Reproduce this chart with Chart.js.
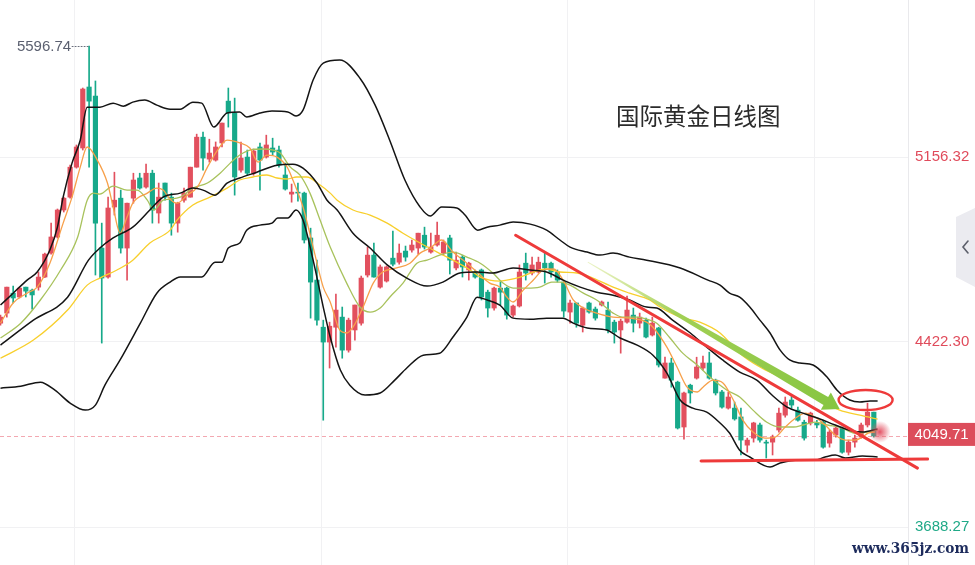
<!DOCTYPE html>
<html>
<head>
<meta charset="utf-8">
<script src="https://cdn.jsdelivr.net/npm/chart.js@4.4.0/dist/chart.umd.min.js"></script>
<style>
  html, body { margin: 0; padding: 0; background: #fff; overflow: hidden; }
  #wrap { width: 975px; height: 565px; }
</style>
</head>
<body>
<div id="wrap"><canvas id="goldChart" width="975" height="565"></canvas></div>
<script>
// ===== Daily candles (index 0 = leftmost visible bar) =====
const opens = [
  4497, 4537, 4616, 4601, 4640, 4628, 4640, 4680, 4775, 4839,
  4946, 4997, 5116, 5192, 5434, 5398, 4795, 4680, 4958, 4993,
  4795, 4993, 5073, 5037, 5092, 4934, 5053, 4997, 4894, 4985,
  4997, 5116, 5235, 5148, 5144, 5212, 5378, 5331, 5104, 5156,
  5092, 5196, 5156, 5192, 5184, 5085, 5009, 5017, 5013, 4835,
  4668, 4481, 4422, 4481, 4521, 4390, 4470, 4497, 4688, 4767,
  4640, 4664, 4755, 4739, 4783, 4787, 4795, 4846, 4779, 4807,
  4775, 4835, 4716, 4759, 4708, 4700, 4708, 4620, 4557, 4636,
  4636, 4529, 4565, 4735, 4696, 4700, 4735, 4735, 4700, 4660,
  4541, 4577, 4489, 4577, 4553, 4569, 4549, 4501, 4470, 4501,
  4529, 4497, 4509, 4450, 4478, 4279, 4339, 4263, 4085, 4251,
  4279, 4319, 4339, 4271, 4224, 4160, 4160, 4125, 4013, 4041,
  4093, 4025, 4025, 4073, 4132, 4192, 4152, 4104, 4101, 4101,
  4104, 4021, 4053, 4081, 3985, 4025, 4045, 4093, 4144
];
const highs = [
  4529, 4640, 4644, 4640, 4640, 4632, 4700, 4775, 4894, 4950,
  4997, 5124, 5204, 5430, 5596.74, 5458, 4894, 4997, 5096, 5025,
  4973, 5092, 5092, 5128, 5104, 5053, 5053, 5013, 4977, 5033,
  5116, 5247, 5255, 5227, 5216, 5291, 5430, 5390, 5216, 5184,
  5188, 5212, 5243, 5231, 5200, 5132, 5049, 5053, 5017, 4874,
  4747, 4509, 4501, 4612, 4561, 4517, 4569, 4684, 4799, 4815,
  4728, 4724, 4862, 4811, 4803, 4827, 4854, 4878, 4854, 4898,
  4827, 4846, 4779, 4767, 4739, 4708, 4712, 4628, 4640, 4660,
  4640, 4569, 4728, 4775, 4759, 4759, 4775, 4739, 4708, 4668,
  4589, 4577, 4561, 4581, 4561, 4585, 4581, 4509, 4513, 4604,
  4557, 4537, 4517, 4521, 4481, 4362, 4358, 4267, 4224, 4255,
  4362, 4366, 4382, 4275, 4231, 4224, 4184, 4160, 4041, 4104,
  4101, 4033, 4053, 4160, 4204, 4212, 4164, 4112, 4144, 4112,
  4112, 4073, 4085, 4085, 4033, 4053, 4101, 4180, 4144
];
const lows = [
  4489, 4521, 4577, 4597, 4601, 4553, 4628, 4678, 4771, 4835,
  4938, 4993, 5112, 5184, 5116, 4688, 4418, 4676, 4926, 4775,
  4668, 4973, 5029, 5033, 4894, 4894, 4985, 4846, 4858, 4977,
  4997, 5116, 5104, 5136, 5140, 5196, 5275, 5005, 5096, 5084,
  5084, 5025, 5152, 5164, 5116, 5025, 4977, 4981, 4815, 4517,
  4489, 4112, 4319, 4402, 4358, 4382, 4430, 4489, 4680, 4680,
  4636, 4660, 4724, 4731, 4743, 4779, 4771, 4791, 4775, 4803,
  4767, 4692, 4708, 4680, 4668, 4676, 4589, 4521, 4549, 4569,
  4513, 4521, 4561, 4668, 4688, 4696, 4656, 4680, 4660, 4521,
  4497, 4481, 4462, 4537, 4509, 4565, 4458, 4418, 4378, 4497,
  4462, 4478, 4438, 4446, 4323, 4279, 4243, 4077, 4037, 4180,
  4275, 4311, 4275, 4212, 4160, 4156, 4112, 3974, 3985, 4025,
  4025, 3962, 3974, 4065, 4124, 4160, 4108, 4033, 4093, 4081,
  4001, 4005, 4045, 3981, 3974, 4005, 4041, 4085, 4045
];
const closes = [
  4521, 4640, 4597, 4636, 4624, 4609, 4680, 4771, 4839, 4946,
  4993, 5116, 5196, 5426, 5378, 4894, 4676, 4954, 4985, 4795,
  4973, 5065, 5033, 5092, 4946, 4997, 4997, 4894, 4973, 5013,
  5116, 5235, 5152, 5172, 5196, 5291, 5331, 5077, 5152, 5092,
  5180, 5144, 5204, 5176, 5124, 5029, 5017, 5013, 4827, 4660,
  4509, 4422, 4485, 4549, 4390, 4509, 4569, 4676, 4767, 4680,
  4720, 4720, 4731, 4775, 4759, 4807, 4854, 4799, 4799, 4846,
  4819, 4747, 4747, 4720, 4735, 4680, 4601, 4557, 4636, 4620,
  4529, 4565, 4700, 4696, 4728, 4739, 4716, 4700, 4668, 4545,
  4577, 4497, 4557, 4541, 4517, 4581, 4470, 4462, 4505, 4549,
  4497, 4521, 4442, 4497, 4331, 4339, 4271, 4081, 4220, 4220,
  4323, 4339, 4279, 4220, 4164, 4204, 4117, 4033, 4033, 4101,
  4033, 4021, 4045, 4140, 4184, 4172, 4112, 4041, 4140, 4093,
  4005, 4065, 4081, 3985, 4025, 4041, 4093, 4144, 4049.71
];

// ===== Indicator lines, read as [bar index, price] =====
const bollUpper = [
  [0,4569],[2,4616],[4.2,4668],[5.8,4700],[7.8,4787],[9,4878],[9.9,4997],[11.3,5132],[12.6,5223],
  [13.7,5354],[15.7,5354],[17.8,5370],[19.4,5358],[20.9,5374],[22.8,5382],[24.7,5362],[26.8,5346],
  [28.4,5346],[30.4,5374],[31.8,5370],[33.7,5275],[35.8,5331],[37.8,5335],[38.9,5315],[41,5331],
  [42.9,5339],[45.4,5335],[46.7,5319],[47.8,5342],[49.4,5462],[51,5529],[53.6,5541],[56.8,5469],
  [59.2,5362],[61.5,5223],[63.9,5065],[66.3,4958],[67.9,4922],[69.7,4958],[72.1,4954],[73.4,4926],
  [75.4,4866],[76.9,4878],[78.9,4886],[81,4898],[83.7,4890],[86.3,4866],[88.4,4827],[90,4799],
  [92.7,4779],[94.7,4767],[96.8,4775],[99.4,4759],[102.1,4747],[107.4,4716],[111.8,4668],
  [113.7,4648],[115.2,4616],[116.8,4600],[118.4,4561],[120,4509],[121.6,4458],[123.2,4390],
  [124.7,4351],[126.3,4339],[128.4,4331],[130.6,4283],[132.2,4231],[134.2,4192],[135.8,4184],
  [137.4,4188],[138.6,4188]
];
const bollMid = [
  [0,4410],[5.2,4509],[10.6,4600],[13.9,4747],[15.7,4795],[17.8,4835],[20.9,4878],[23.6,4946],
  [25.7,4997],[28.4,5013],[30.4,5033],[32,5025],[33.9,5005],[35.8,5053],[37.8,5073],[40.5,5096],
  [43.7,5124],[46.2,5128],[47.8,5112],[50,5053],[51.6,4985],[53.2,4946],[55.7,4854],[58.4,4795],
  [61.1,4728],[64.2,4676],[67.4,4644],[69.9,4660],[72.6,4696],[75.3,4700],[77.8,4696],[81,4716],
  [83.7,4708],[86.3,4700],[88.9,4668],[91.6,4640],[94.2,4620],[96.8,4608],[99.4,4589],[102.1,4561],
  [103.7,4557],[106.2,4509],[109,4458],[111.6,4402],[114.1,4351],[116.8,4303],[119.5,4271],
  [121.9,4212],[124.3,4164],[126.3,4144],[129.2,4120],[131.9,4093],[134.6,4069],[136.2,4065],
  [138.6,4077]
];
const bollLower = [
  [0,4239],[3.2,4247],[6.3,4263],[8.6,4231],[11,4180],[13.4,4152],[15,4172],[16.5,4251],[18.9,4351],
  [22.1,4497],[24.7,4616],[26.8,4660],[28.4,4680],[31.8,4680],[33.9,4739],[35,4739],[36,4795],
  [37.8,4815],[38.9,4866],[41,4886],[42.9,4894],[43.8,4914],[45.4,4914],[46.7,4946],[47.8,4906],
  [49.4,4747],[51,4561],[52.1,4442],[53.7,4311],[55.2,4251],[57.6,4212],[60,4220],[62.3,4271],
  [64.2,4319],[66.8,4370],[69.4,4378],[71.5,4442],[73.7,4521],[75.3,4600],[76.9,4589],[78.9,4569],
  [81,4517],[83.7,4513],[86.3,4517],[88.9,4517],[90.5,4497],[92.7,4478],[95.8,4470],[97.9,4438],
  [100.6,4410],[103.1,4370],[105.3,4299],[107.4,4192],[109.4,4160],[111.6,4144],[113.7,4101],
  [115.2,4061],[116.8,3993],[118.4,3966],[121.6,3926],[123.2,3942],[126.3,3954],[128.7,3954],
  [130.3,3966],[131.9,3974],[133.5,3962],[136.2,3970],[138.6,3966]
];
const ma5 = [
  [0,4497],[2,4577],[4.2,4616],[5.8,4640],[7.8,4735],[9.9,4894],[11.3,4997],[12.6,5116],[13.7,5196],
  [15.3,5144],[16.9,5053],[17.8,4958],[18.9,4854],[20,4918],[20.9,4973],[23.2,5013],[24.7,5033],
  [25.7,5025],[26.8,4989],[27.9,4973],[29.5,5005],[31.1,5037],[32.7,5116],[34.3,5184],[35.8,5223],
  [37.8,5212],[39.4,5192],[40.7,5136],[42.1,5164],[43.7,5156],[45.3,5116],[46.2,5065],[47.8,4958],
  [49.4,4799],[51,4640],[52.1,4581],[53.6,4470],[54.7,4458],[55.7,4481],[57.3,4561],[58.9,4656],
  [60.4,4700],[62.6,4716],[64.7,4735],[66.3,4775],[67.9,4795],[69.7,4827],[71.5,4779],[73.7,4735],
  [75.3,4700],[77.3,4656],[78.9,4640],[80,4601],[81,4581],[82.6,4628],[84.2,4668],[85.8,4708],
  [87.4,4712],[88.9,4668],[90.5,4589],[92.1,4557],[94.2,4537],[96.8,4521],[99.4,4517],[102.1,4501],
  [103.1,4481],[105.3,4402],[106.9,4323],[108.5,4243],[110.1,4224],[111,4243],[112.6,4271],
  [114.2,4259],[115.8,4192],[117.3,4112],[118.9,4065],[120.8,4041],[122.4,4045],[124,4085],
  [125.6,4120],[127.2,4140],[128.7,4124],[130.3,4093],[131.9,4053],[133.5,4033],[135,4033],
  [136.2,4045],[137.1,4061],[138.2,4065]
];
const ma10 = [
  [0,4438],[3.2,4497],[6.3,4589],[9.5,4708],[12.2,4839],[13.7,4985],[14.7,5013],[15.7,5009],
  [17.8,5041],[20,5025],[21.6,5025],[23.2,4985],[24.2,4946],[25.7,4985],[26.8,4989],[28.4,4997],
  [30.4,5033],[32.7,5053],[34.7,5092],[36.3,5132],[37.8,5164],[39.4,5184],[41.5,5188],[43.1,5184],
  [44.2,5172],[45.8,5116],[47.3,5085],[48.9,5013],[50.5,4906],[52.1,4799],[54.7,4656],[56.8,4561],
  [58.4,4541],[60,4557],[61.5,4600],[63.6,4656],[65.8,4735],[67.4,4747],[69.4,4767],[71.5,4779],
  [73.7,4759],[75.8,4735],[77.8,4696],[79.4,4656],[81,4636],[83.2,4636],[85.2,4640],[87.1,4660],
  [88.4,4660],[90,4648],[92.1,4616],[94.2,4589],[96.8,4537],[98.3,4521],[100.6,4521],[102.6,4509],
  [103.7,4497],[105.8,4438],[107.8,4378],[110.1,4331],[112.1,4283],[114.8,4231],[116.8,4204],
  [118.9,4152],[121.1,4104],[123.2,4085],[125.3,4085],[126.8,4093],[128.7,4104],[130.7,4093],
  [133,4081],[135,4061],[137.1,4065],[138.6,4073]
];
const ma20 = [
  [0,4358],[5.2,4430],[10.6,4549],[13.7,4648],[15.7,4676],[18.4,4708],[20.9,4747],[23.6,4815],
  [26.8,4866],[27.9,4906],[30.4,4966],[33.1,4997],[35.8,5033],[37.8,5065],[39.9,5077],[42.1,5085],
  [43.7,5073],[45.3,5069],[46.8,5077],[48.4,5077],[50.5,5045],[52.1,5013],[53.2,4985],[55.7,4946],
  [58.4,4926],[61.1,4894],[63.6,4854],[66.3,4815],[69,4779],[71.5,4747],[74.2,4708],[75.8,4680],
  [77.3,4668],[78.9,4664],[80,4668],[82.1,4680],[84.2,4700],[86.3,4712],[88.4,4700],[91.1,4696],
  [93.6,4676],[96.8,4640],[99.4,4616],[102.6,4589],[104.2,4561],[107.4,4521],[110.5,4501],
  [113.7,4458],[116.8,4378],[120,4323],[123.2,4283],[126.3,4239],[129.5,4192],[132.6,4152],
  [135.8,4132],[138.6,4116]
];

// ===== Axis values and drawn annotations (in bar index / price units) =====
const priceTicks = [3688.27, 4422.30, 5156.32];
const gridIdx = [11.77, 50.8, 89.65, 128.67];
const highIdx = 14;
const highPrice = 5596.74;
const lastPrice = 4049.71;
const trendLine = [[81.4, 4846], [144.9, 3922]];
const supportLine = [[110.7, 3950], [146.5, 3958]];
const arrowPath = [[92.8, 4739], [132.6, 4156]];
const circleMark = [136.7, 4192];
const titleText = '国际黄金日线图';
const siteText = 'www.365jz.com';

// ===== Colours =====
const colors = {
  up: '#e2505e',
  down: '#17a98a',
  boll: '#141414',
  ma5: '#f7a04a',
  ma10: '#a8c25c',
  ma20: '#f8cf2c',
  grid: '#f1f1f3',
  mark: '#ee3a3a',
  arrow: '#86c541'
};

const idx = closes.map((_, i) => i);
const candleColor = idx.map(i => closes[i] >= opens[i] ? colors.up : colors.down);

function lineSet(label, pts, color, width) {
  return {
    type: 'line',
    label: label,
    data: pts.map(([x, y]) => ({ x: x, y: y })),
    borderColor: color,
    borderWidth: width,
    pointRadius: 0,
    cubicInterpolationMode: 'monotone',
    fill: false,
    order: 0
  };
}

// ===== Overlay drawing (price line, trend marks, labels) =====
const overlay = {
  id: 'overlay',
  beforeDatasetsDraw(chart) {
    const { ctx, chartArea: a, scales: { y } } = chart;
    const py = Math.round(y.getPixelForValue(lastPrice)) + 0.5;
    ctx.save();
    ctx.strokeStyle = '#f3a8b1';
    ctx.lineWidth = 1;
    ctx.setLineDash([4, 3]);
    ctx.beginPath();
    ctx.moveTo(a.left, py);
    ctx.lineTo(a.right, py);
    ctx.stroke();
    ctx.restore();
  },
  afterDatasetsDraw(chart) {
    const { ctx, chartArea: a, scales: { x, y } } = chart;
    const px = p => [x.getPixelForValue(p[0]), y.getPixelForValue(p[1])];
    ctx.save();

    // red resistance + support lines
    ctx.strokeStyle = colors.mark;
    ctx.lineWidth = 3;
    ctx.lineCap = 'round';
    [trendLine, supportLine].forEach(seg => {
      const p0 = px(seg[0]), p1 = px(seg[1]);
      ctx.beginPath();
      ctx.moveTo(p0[0], p0[1]);
      ctx.lineTo(p1[0], p1[1]);
      ctx.stroke();
    });

    // tapered green arrow
    const s = px(arrowPath[0]), e = px(arrowPath[1]);
    const dx = e[0] - s[0], dy = e[1] - s[1], len = Math.hypot(dx, dy);
    const ux = dx / len, uy = dy / len, nx = -uy, ny = ux;
    const headLen = 16, headHalf = 10, w0 = 0.4, w1 = 4.6;
    const bx = e[0] - ux * headLen, by = e[1] - uy * headLen;
    const g = ctx.createLinearGradient(s[0], s[1], e[0], e[1]);
    g.addColorStop(0, 'rgba(214,230,140,0.5)');
    g.addColorStop(0.35, '#a2d055');
    g.addColorStop(1, colors.arrow);
    ctx.fillStyle = g;
    ctx.beginPath();
    ctx.moveTo(s[0] + nx * w0, s[1] + ny * w0);
    ctx.lineTo(bx + nx * w1, by + ny * w1);
    ctx.lineTo(bx + nx * headHalf, by + ny * headHalf);
    ctx.lineTo(e[0], e[1]);
    ctx.lineTo(bx - nx * headHalf, by - ny * headHalf);
    ctx.lineTo(bx - nx * w1, by - ny * w1);
    ctx.lineTo(s[0] - nx * w0, s[1] - ny * w0);
    ctx.closePath();
    ctx.fill();

    // red ellipse around the last highs
    const c = px(circleMark);
    ctx.strokeStyle = colors.mark;
    ctx.lineWidth = 2.4;
    ctx.beginPath();
    ctx.ellipse(c[0], c[1], 27, 10, 0, 0, Math.PI * 2);
    ctx.stroke();

    // glowing last-price dot
    const lx = x.getPixelForValue(closes.length - 1) + 6;
    const ly = y.getPixelForValue(lastPrice) - 4;
    const rg = ctx.createRadialGradient(lx, ly, 0, lx, ly, 11);
    rg.addColorStop(0, 'rgba(226,72,92,0.95)');
    rg.addColorStop(0.45, 'rgba(228,86,102,0.55)');
    rg.addColorStop(1, 'rgba(228,86,102,0)');
    ctx.fillStyle = rg;
    ctx.beginPath();
    ctx.arc(lx, ly, 11, 0, Math.PI * 2);
    ctx.fill();

    // highest price marker
    const hx = x.getPixelForValue(highIdx) - 1, hy = y.getPixelForValue(highPrice);
    ctx.strokeStyle = '#6a6f7c';
    ctx.lineWidth = 1;
    ctx.setLineDash([1, 2]);
    ctx.beginPath();
    ctx.moveTo(hx - 16, Math.round(hy) + 0.5);
    ctx.lineTo(hx, Math.round(hy) + 0.5);
    ctx.stroke();
    ctx.setLineDash([]);
    ctx.font = '15px "Liberation Sans"';
    ctx.fillStyle = '#5b6070';
    ctx.textAlign = 'right';
    ctx.textBaseline = 'middle';
    ctx.fillText(highPrice.toFixed(2), hx - 17, hy + 1);

    // title
    ctx.font = '23.5px "Noto Sans CJK SC"';
    ctx.fillStyle = '#2b2b2b';
    ctx.textAlign = 'left';
    ctx.fillText(titleText, 616, 116);

    // last price box on the axis
    const py = y.getPixelForValue(lastPrice);
    ctx.fillStyle = '#dc4d5b';
    ctx.fillRect(a.right, py - 13, chart.width - a.right, 23);
    ctx.fillStyle = '#ffffff';
    ctx.font = '15px "Liberation Sans"';
    ctx.textAlign = 'center';
    ctx.fillText(lastPrice.toFixed(2), a.right + (chart.width - a.right) / 2, py - 1);

    // side collapse tab
    ctx.fillStyle = '#ebebf0';
    ctx.beginPath();
    ctx.moveTo(chart.width, 208);
    ctx.lineTo(chart.width - 19, 217);
    ctx.lineTo(chart.width - 19, 277);
    ctx.lineTo(chart.width, 287);
    ctx.closePath();
    ctx.fill();
    ctx.strokeStyle = '#5c5f6a';
    ctx.lineWidth = 1.6;
    ctx.beginPath();
    ctx.moveTo(chart.width - 7, 241);
    ctx.lineTo(chart.width - 12, 247);
    ctx.lineTo(chart.width - 7, 253);
    ctx.stroke();

    // watermark
    ctx.font = 'bold 15px "DejaVu Serif"';
    const tw = ctx.measureText(siteText).width;
    ctx.translate(852, 549);
    ctx.scale(117 / tw, 1);
    ctx.fillStyle = '#1d2b5c';
    ctx.textAlign = 'left';
    ctx.fillText(siteText, 0, 0);
    ctx.restore();
  }
};

// ===== Build chart =====
new Chart(document.getElementById('goldChart'), {
  type: 'bar',
  data: {
    datasets: [
      lineSet('BOLL UP', bollUpper, colors.boll, 1.5),
      lineSet('BOLL MID', bollMid, colors.boll, 1.5),
      lineSet('BOLL LOW', bollLower, colors.boll, 1.5),
      lineSet('MA5', ma5, colors.ma5, 1.3),
      lineSet('MA10', ma10, colors.ma10, 1.3),
      lineSet('MA20', ma20, colors.ma20, 1.3),
      {
        label: 'body',
        data: idx.map(i => ({ x: i, y: [opens[i], closes[i]] })),
        backgroundColor: candleColor,
        barThickness: 4.5,
        minBarLength: 1,
        grouped: false,
        borderWidth: 0,
        order: 1
      },
      {
        label: 'wick',
        data: idx.map(i => ({ x: i, y: [lows[i], highs[i]] })),
        backgroundColor: candleColor,
        barThickness: 1,
        grouped: false,
        borderWidth: 0,
        order: 2
      }
    ]
  },
  options: {
    responsive: false,
    animation: false,
    events: [],
    layout: { padding: 0 },
    plugins: {
      legend: { display: false },
      tooltip: { enabled: false }
    },
    scales: {
      x: {
        type: 'linear',
        min: -0.079,
        max: 143.4,
        offset: false,
        grid: { color: colors.grid, drawTicks: false, offset: false },
        border: { display: false },
        ticks: { display: false },
        afterBuildTicks: s => { s.ticks = gridIdx.map(v => ({ value: v })); },
        afterFit: s => { s.height = 0; s.paddingLeft = 0; s.paddingRight = 0; }
      },
      y: {
        type: 'linear',
        position: 'right',
        min: 3537.5,
        max: 5779.25,
        beginAtZero: false,
        grid: { color: colors.grid, drawTicks: false },
        border: { display: true, color: '#e9e9ec' },
        ticks: {
          padding: 7,
          font: { family: 'Liberation Sans', size: 15 },
          color: c => c.tick.value >= lastPrice ? '#e04b5b' : '#1fa987',
          callback: v => Number(v).toFixed(2)
        },
        afterBuildTicks: s => { s.ticks = priceTicks.map(v => ({ value: v })); },
        afterFit: s => { s.width = 67; s.paddingTop = 0; s.paddingBottom = 0; }
      }
    }
  },
  plugins: [overlay]
});
</script>
</body>
</html>
